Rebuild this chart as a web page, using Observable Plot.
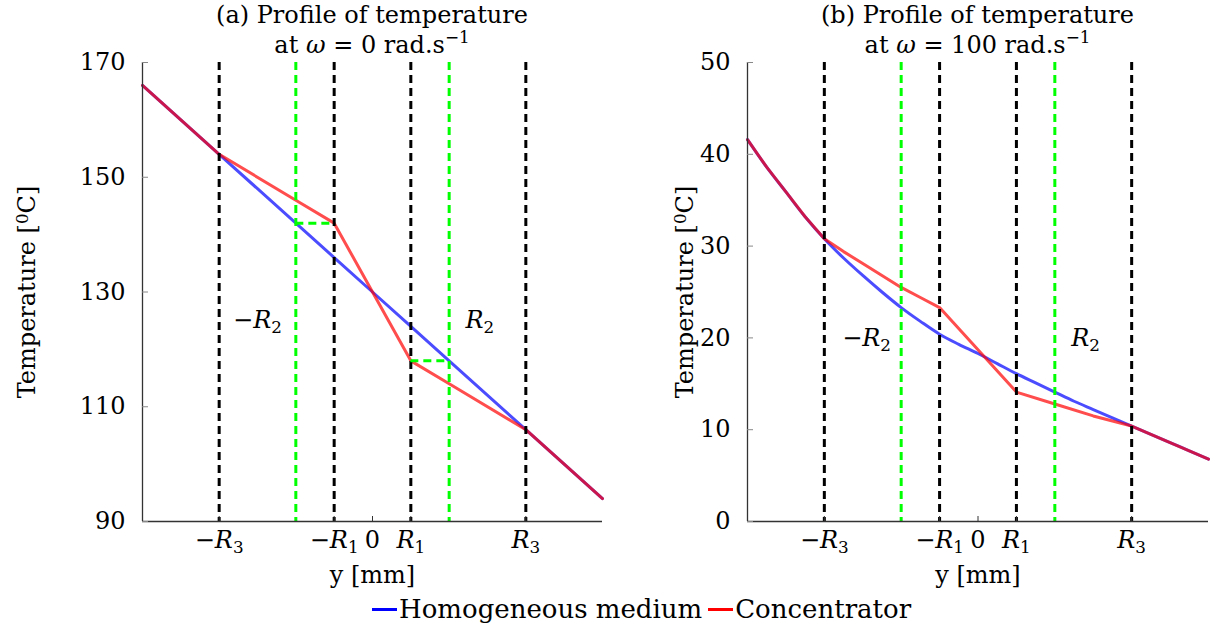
<!DOCTYPE html>
<html>
<head>
<meta charset="utf-8">
<script src="https://cdn.jsdelivr.net/npm/d3@7"></script>
<script src="https://cdn.jsdelivr.net/npm/@observablehq/plot@0.6"></script>
<style>
  body { margin: 0; background: #fff; }
  #wrap { position: relative; width: 1221px; height: 635px; font-family: "DejaVu Serif", serif; color: #000; }
  #panels { position: absolute; left: 0; top: 0; display: flex; }
  .title { position: absolute; top: 0; text-align: center; font-size: 24px; line-height: 30px; white-space: nowrap; }
  .title sup { font-size: 0.7em; line-height: 0; vertical-align: 0.6em; }
  #legend { position: absolute; top: 594px; left: 372px; display: flex; align-items: center; font-size: 26px; white-space: nowrap; }
  #legend .sw { display: inline-block; width: 25px; height: 3px; margin-right: 2px; }
  #legend .item { display: flex; align-items: center; margin-right: 6px; }
</style>
</head>
<body>
<div id="wrap">
  <div id="panels"></div>
</div>
<script>
// ---------- shared data ----------
const xDomain = [-60, 60];                          // y [mm]
const xTicks = [-40, -10, 0, 10, 40];
const xTickLabels = ["−R₃", "−R₁", "0", "R₁", "R₃"];
const blackDashX = [-40, -10, 10, 40];              // ±R1, ±R3
const greenDashX = [-20, 20];                       // ±R2
const regionLabels = ["−R₂", "R₂"];
const seriesNames = ["Homogeneous medium", "Concentrator"];
const seriesColors = ["#0000ff", "#ff0000"];
const xLabel = "y [mm]";
const yLabel = "Temperature [⁰C]";

// ---------- panel (a): omega = 0 ----------
const aTitle = "(a) Profile of temperature";
const aOmega = "0";
const aYDomain = [90, 170];
const aYTicks = [90, 110, 130, 150, 170];
const aHomY = [-60, -40, -20, -10, 0, 10, 20, 40, 60];
const aHomT = [166, 154, 142, 136, 130, 124, 118, 106, 94];
const aConY = [-60, -40, -20, -10, 0, 10, 20, 40, 60];
const aConT = [166, 154, 146, 142, 130, 118, 114, 106, 94];
const aGreenT = [142, 118];
const aGreenX1 = [-20, 10];
const aGreenX2 = [-10, 20];
const aLabelX = [-30, 28];
const aLabelT = [125, 125];

// ---------- panel (b): omega = 100 ----------
const bTitle = "(b) Profile of temperature";
const bOmega = "100";
const bYDomain = [0, 50];
const bYTicks = [0, 10, 20, 30, 40, 50];
const bHomY = [-60, -55, -50, -45, -40, -35, -30, -25, -20, -15, -10, -5, 0, 5, 10, 15, 20, 25, 30, 35, 40, 45, 50, 55, 60];
const bHomT = [41.6, 38.6, 35.9, 33.2, 30.8, 28.7, 26.8, 25.0, 23.3, 21.8, 20.4, 19.3, 18.3, 17.2, 16.1, 15.1, 14.1, 13.1, 12.2, 11.3, 10.4, 9.5, 8.6, 7.7, 6.8];
const bConY = [-60, -55, -50, -45, -40, -35, -30, -25, -20, -15, -10, 10, 20, 30, 40, 45, 50, 55, 60];
const bConT = [41.6, 38.6, 35.9, 33.2, 30.8, 29.4, 28.1, 26.8, 25.5, 24.4, 23.3, 14.1, 12.8, 11.5, 10.4, 9.5, 8.6, 7.7, 6.8];
const bGreenT = [];
const bGreenX1 = [];
const bGreenX2 = [];
const bLabelX = [-29, 28];
const bLabelT = [20, 20];

const FONT = "DejaVu Serif";
const FS = 24;

function toRows(xs, ys) { return xs.map((x, i) => ({x, y: ys[i]})); }

const NS = "http://www.w3.org/2000/svg";
function tsp(t, s, attrs) {
  const e = document.createElementNS(NS, "tspan");
  e.textContent = s;
  for (const k in (attrs || {})) e.setAttribute(k, attrs[k]);
  t.appendChild(e);
}
function richify(svg) {
  const subMap = {"₀":"0","₁":"1","₂":"2","₃":"3"};
  svg.querySelectorAll("text").forEach(t => {
    if (t.querySelector("tspan")) return;
    const s = t.textContent;
    const m = s.match(/^(−?)R([₀-₉])$/);
    if (m) {
      t.textContent = "";
      if (m[1]) tsp(t, "−");
      tsp(t, "R", {"font-style": "italic"});
      tsp(t, subMap[m[2]], {"font-size": "70%", "dy": "0.3em"});
      return;
    }
    if (s.includes("⁰")) {
      const [pre, post] = s.split("⁰");
      t.textContent = "";
      tsp(t, pre);
      tsp(t, "0", {"font-size": "70%", "dy": "-0.45em"});
      tsp(t, post, {"dy": "0.315em"});
    }
  });
}

function panel(cfg) {
  const hom = toRows(cfg.homY, cfg.homT);
  const con = toRows(cfg.conY, cfg.conT);
  const greens = cfg.greenT.map((t, i) => ({t, x1: cfg.greenX1[i], x2: cfg.greenX2[i]}));
  const labels = cfg.labelX.map((x, i) => ({x, y: cfg.labelT[i], s: regionLabels[i]}));
  const svg = Plot.plot({
    width: cfg.width, height: 600,
    marginLeft: cfg.ml, marginRight: cfg.mr, marginTop: 62, marginBottom: 79,
    x: {domain: xDomain},
    y: {domain: cfg.yDomain},
    style: {fontFamily: FONT, fontSize: FS + "px", color: "#000", background: "transparent", overflow: "visible"},
    marks: [
      Plot.line(hom, {x: "x", y: "y", stroke: seriesColors[0], strokeOpacity: 0.7, strokeWidth: 3, curve: cfg.homCurve}),
      Plot.line(con, {x: "x", y: "y", stroke: seriesColors[1], strokeOpacity: 0.7, strokeWidth: 3}),
      Plot.ruleX(blackDashX, {stroke: "#000", strokeWidth: 3, strokeDasharray: "8,5"}),
      Plot.ruleX(greenDashX, {stroke: "#00ff00", strokeWidth: 3, strokeDasharray: "8,5"}),
      Plot.ruleY(greens, {y: "t", x1: "x1", x2: "x2", stroke: "#00ff00", strokeWidth: 3, strokeDasharray: "8,5"}),
      Plot.text(labels, {x: "x", y: "y", text: "s", fontSize: FS}),
      Plot.ruleX([xDomain[0]], {stroke: "#333", strokeWidth: 1.3}),
      Plot.ruleY([cfg.yDomain[0]], {stroke: "#333", strokeWidth: 1.3}),
      Plot.axisY({ticks: cfg.yTicks, tickSize: -6, tickPadding: 23, stroke: "#888", label: null}),
      Plot.axisX({ticks: xTicks, tickFormat: d => xTickLabels[xTicks.indexOf(d)], tickSize: -5, tickPadding: 14, stroke: "#333", label: null}),
      Plot.text([xLabel], {frameAnchor: "bottom", dy: 54, lineAnchor: "middle", textAnchor: "middle", fontSize: FS}),
      Plot.text([yLabel], {frameAnchor: "left", dx: cfg.ylabelDx, rotate: -90, textAnchor: "middle", lineAnchor: "middle", fontSize: FS})
    ]
  });
  richify(svg);
  return svg;
}

const panels = document.getElementById("panels");
panels.appendChild(panel({width: 610, ml: 142, mr: 8, yDomain: aYDomain, yTicks: aYTicks,
  homY: aHomY, homT: aHomT, conY: aConY, conT: aConT, homCurve: "linear",
  greenT: aGreenT, greenX1: aGreenX1, greenX2: aGreenX2, labelX: aLabelX, labelT: aLabelT, ylabelDx: -115}));
panels.appendChild(panel({width: 611, ml: 137, mr: 13, yDomain: bYDomain, yTicks: bYTicks,
  homY: bHomY, homT: bHomT, conY: bConY, conT: bConT, homCurve: "monotone-x",
  greenT: bGreenT, greenX1: bGreenX1, greenX2: bGreenX2, labelX: bLabelX, labelT: bLabelT, ylabelDx: -62}));

const wrap = document.getElementById("wrap");
function addTitle(left, width, t, omega) {
  const d = document.createElement("div");
  d.className = "title";
  d.style.left = left + "px"; d.style.width = width + "px";
  d.innerHTML = `${t}<br>at <i>ω</i> = ${omega} rad.s<sup>−1</sup>`;
  wrap.appendChild(d);
}
addTitle(142, 460, aTitle, aOmega);
addTitle(747, 461, bTitle, bOmega);

const legend = document.createElement("div");
legend.id = "legend";
seriesNames.forEach((n, i) => {
  const it = document.createElement("div"); it.className = "item";
  const sw = document.createElement("span"); sw.className = "sw"; sw.style.background = seriesColors[i];
  const tx = document.createElement("span"); tx.textContent = n;
  it.appendChild(sw); it.appendChild(tx); legend.appendChild(it);
});
wrap.appendChild(legend);
</script>
</body>
</html>
